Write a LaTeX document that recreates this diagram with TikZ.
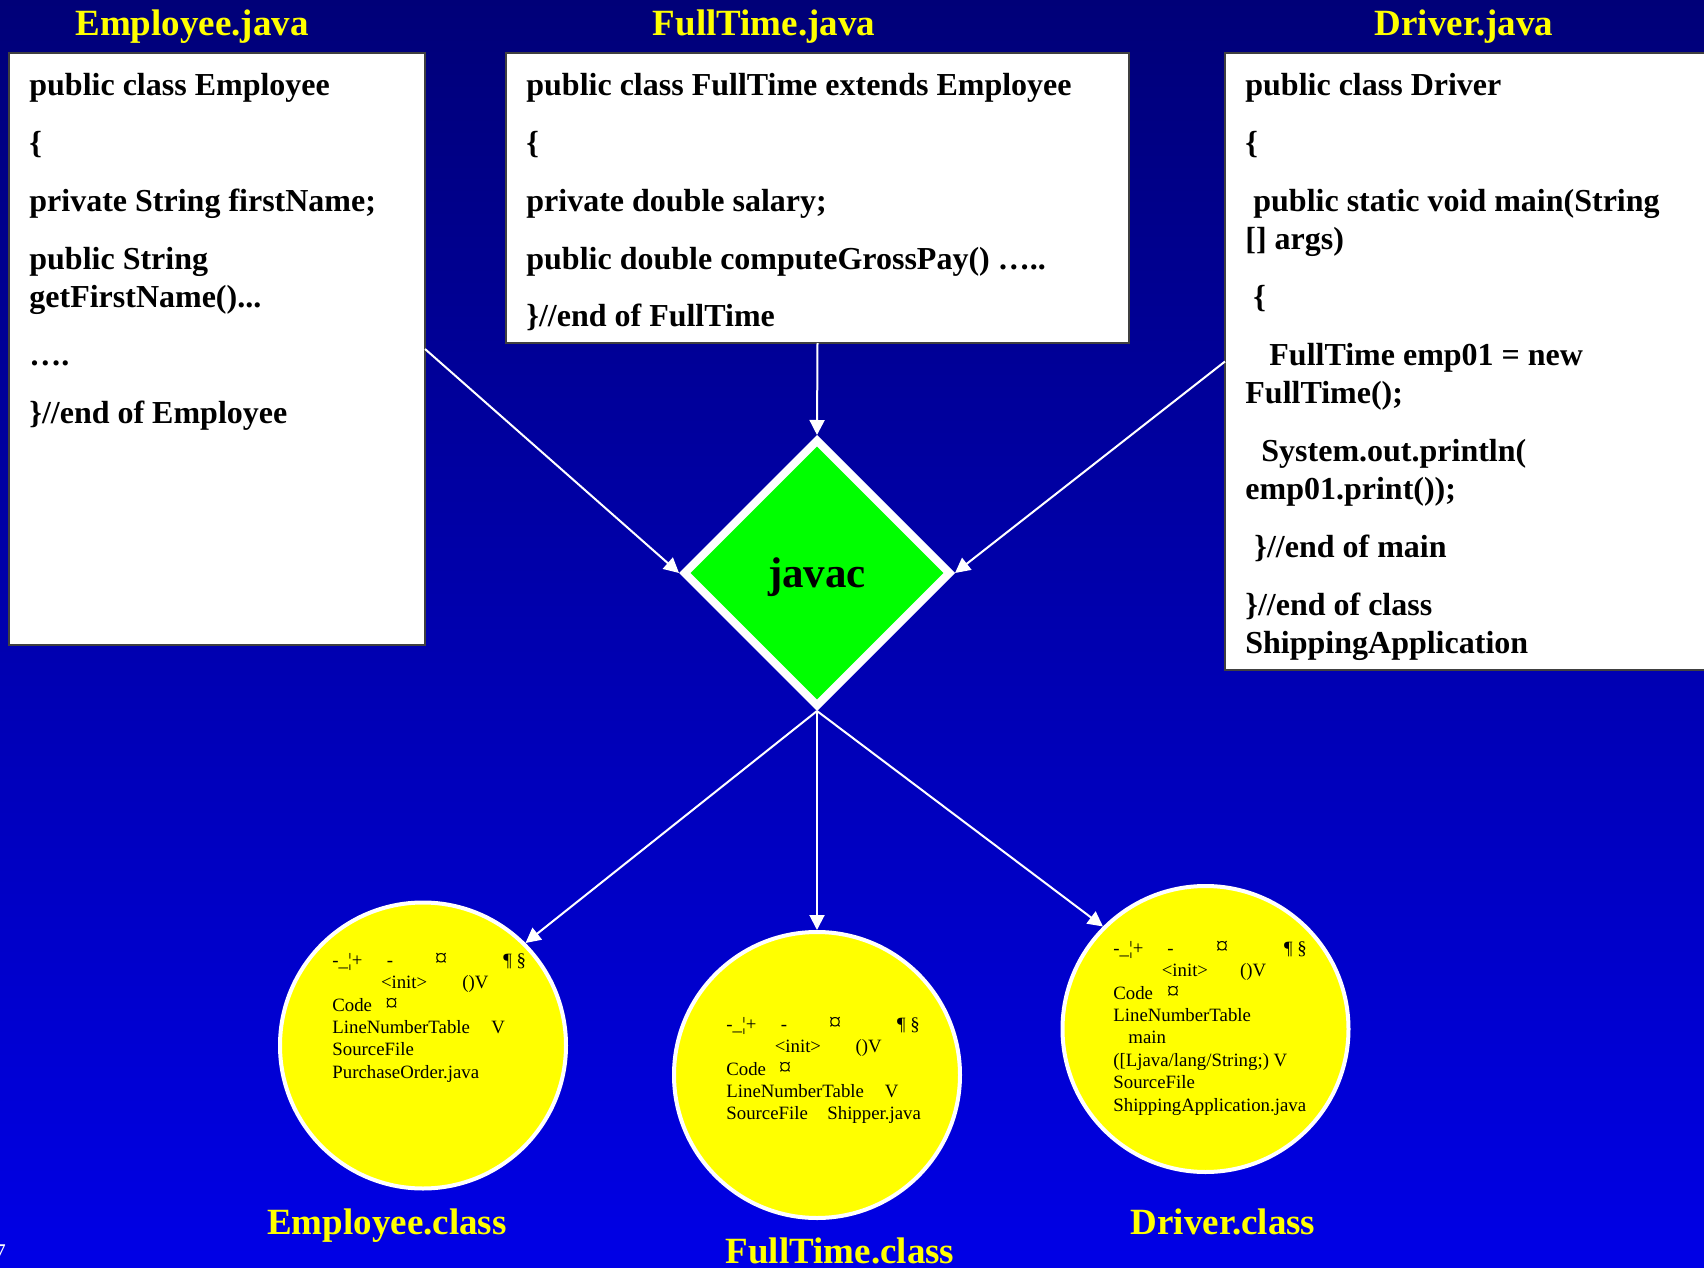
\documentclass[tikz,border=0pt]{standalone}
\usepackage{fontspec}
\setmainfont{Liberation Serif}
\usetikzlibrary{shapes.geometric,arrows.meta}
\definecolor{navytop}{RGB}{0,0,120}
\definecolor{bluebottom}{RGB}{0,0,230}
\definecolor{javacgreen}{RGB}{0,255,0}
\definecolor{classyellow}{RGB}{255,255,0}
% place #2 at horizontal offset #1 from the start of the line, taking no width
\newcommand\colat[2]{\rlap{\hspace*{#1}#2}}
% currency sign, set a little larger than the surrounding bytecode text
\newcommand\cursign{{\fontsize{12.5}{11.2}\selectfont ¤}}

\begin{document}
\begin{tikzpicture}[x=0.5pt,y=-0.5pt,
  codebox/.style={draw=black!75, line width=1pt, fill=white, inner sep=0pt, outer sep=0pt},
  codetext/.style={anchor=north west, inner sep=0pt, align=left,
    font=\fontsize{16}{19.15}\selectfont\bfseries},
  filetitle/.style={anchor=base, text=classyellow, inner sep=0pt,
    font=\fontsize{18.5}{22}\selectfont\bfseries},
  flow/.style={draw=white, line width=1pt, -{Triangle[length=7.5pt,width=7.5pt]}},
  classdisk/.style={circle, fill=classyellow, draw=white, line width=2pt,
    minimum size=143pt, inner sep=0pt},
  bytecode/.style={anchor=north west, inner sep=0pt, align=left,
    font=\fontsize{9.4}{11.2}\selectfont},
]
% background
\shade[top color=navytop, bottom color=bluebottom] (0,0) rectangle (1704,1268);
\useasboundingbox (0,0) rectangle (1704,1268);

% source file titles
\node[filetitle] (empjava) at (192,36) {Employee.java};
\node[filetitle] (ftjava) at (764,36) {FullTime.java};
\node[filetitle] (drvjava) at (1464,36) {Driver.java};

% source boxes
\node[codebox, minimum width=208pt, minimum height=296pt] (emp) at (217,349) {};
\node[codebox, minimum width=311.5pt, minimum height=145pt] (ft) at (817.5,198) {};
\node[codebox, minimum width=245pt, minimum height=308.5pt] (drv) at (1470,361.5) {};

\node[codetext] (empcode) at (29,68.5) {%
\strut public class Employee\\[9.75pt]
\{\\[9.75pt]
private String firstName;\\[9.75pt]
public String\\
getFirstName()...\\[9.75pt]
….\\[9.75pt]
\}//end of Employee};

\node[codetext] (ftcode) at (526,68.5) {%
\strut public class FullTime extends Employee\\[9.75pt]
\{\\[9.75pt]
private double salary;\\[9.75pt]
public double computeGrossPay() …..\\[9.75pt]
\}//end of FullTime};

\node[codetext] (drvcode) at (1245,68.5) {%
\strut public class Driver\\[9.75pt]
\{\\[9.75pt]
\hspace*{4pt}public static void main(String\\
{[]} args)\\[9.75pt]
\hspace*{4pt}\{\\[9.75pt]
\hspace*{12pt}FullTime emp01 = new\\
FullTime();\\[9.75pt]
\hspace*{8pt}System.out.println(\\
emp01.print());\\[9.75pt]
\hspace*{4.5pt}\}//end of main\\[9.75pt]
\}//end of class\\
ShippingApplication};

% compiler
\node[diamond, fill=javacgreen, draw=white, line width=4pt,
  minimum width=134pt, minimum height=134pt, inner sep=0pt,
  font=\fontsize{21.5}{24}\selectfont\bfseries] (javac) at (817,573)
  {\raisebox{-7.2pt}[0pt][0pt]{javac}};

% class files
\node[classdisk] (c1) at (423,1045.5) {};
\node[classdisk] (ftc) at (817,1075) {};
\node[classdisk] (drc) at (1205.5,1029) {};

\node[bytecode] (c1text) at (332,950.3) {%
\strut\colat{0pt}{-\_¦+}\colat{27.3pt}{-}\colat{51.2pt}{\cursign}\colat{85.5pt}{¶ §}\\
\colat{24.3pt}{<init>}\colat{65pt}{()V}\\
\colat{0pt}{Code}\colat{26.5pt}{\cursign}\\
\colat{0pt}{LineNumberTable}\colat{79.5pt}{V}\\
SourceFile\\
PurchaseOrder.java};

\node[bytecode] (ftctext) at (725,1014.3) {%
\strut\colat{0pt}{-\_¦+}\colat{27.2pt}{-}\colat{51.2pt}{\cursign}\colat{85.4pt}{¶ §}\\
\colat{24.2pt}{<init>}\colat{64.6pt}{()V}\\
\colat{0pt}{Code}\colat{26.2pt}{\cursign}\\
\colat{0pt}{LineNumberTable}\colat{79.2pt}{V}\\
\colat{0pt}{SourceFile}\colat{50.5pt}{Shipper.java}};

\node[bytecode] (drctext) at (1113,938.3) {%
\strut\colat{0pt}{-\_¦+}\colat{27pt}{-}\colat{51.2pt}{\cursign}\colat{85.4pt}{¶ §}\\
\colat{24.2pt}{<init>}\colat{63.4pt}{()V}\\
\colat{0pt}{Code}\colat{26.7pt}{\cursign}\\
LineNumberTable\\
\hspace*{7.5pt}main\\
([Ljava/lang/String;) V\\
SourceFile\\
ShippingApplication.java};

% class file names
\node[filetitle] (empclass) at (387,1234) {Employee.class};
\node[filetitle] (ftclass) at (840,1263) {FullTime.class};
\node[filetitle] (drvclass) at (1223,1234) {Driver.class};

% slide number, mostly past the left edge
\node[anchor=base west, text=white, inner sep=0pt,
  font=\fontsize{12}{14}\selectfont] (pagenum) at (-6.5,1260) {7};

% compilation flow
\draw[flow] (emp.east) -- (javac.west);
\draw[flow] (ft.south) -- (javac.north);
\draw[flow] (drv.west) -- (javac.east);
\draw[flow] (javac.south) -- (c1.45);
\draw[flow] (javac.south) -- (ftc.north);
\draw[flow] (javac.south) -- (drc.135);
\end{tikzpicture}
\end{document}
